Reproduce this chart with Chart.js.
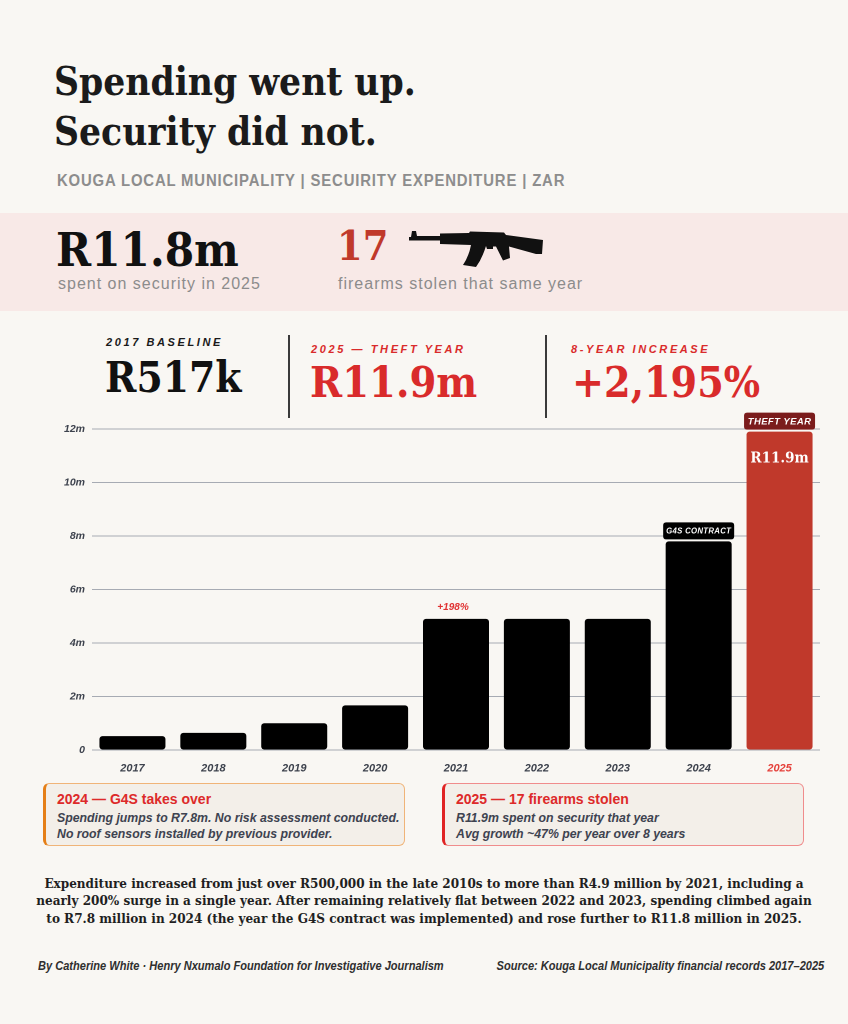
<!DOCTYPE html>
<html>
<head>
<meta charset="utf-8">
<script src="https://cdn.jsdelivr.net/npm/chart.js@4.4.1/dist/chart.umd.min.js"></script>
<style>
  html,body{margin:0;padding:0;}
  body{width:848px;height:1024px;background:#f9f7f3;position:relative;overflow:hidden;font-family:"Liberation Sans",Arial,sans-serif;}
  .abs{position:absolute;white-space:nowrap;line-height:1;}
  .serif{font-family:"DejaVu Serif Condensed","DejaVu Serif",serif;font-stretch:condensed;font-weight:bold;}
  .narrow{font-family:"Liberation Sans",Arial,sans-serif;}
  #band{position:absolute;left:0;top:213px;width:848px;height:98px;background:#f8e9e7;}
  .kpilab{font-family:"Liberation Sans",Arial,sans-serif;font-style:italic;font-weight:bold;font-size:11px;letter-spacing:2.6px;}
  .divider{position:absolute;width:1.5px;background:#3a3a3a;top:335px;height:83px;}
  .note{position:absolute;top:783px;width:362px;height:63px;border-radius:6px;background:#f3efe9;box-sizing:border-box;}
  .note .t{position:absolute;left:11px;top:7px;font-weight:bold;font-size:14px;color:#dd2a2a;white-space:nowrap;}
  .note .b{position:absolute;left:11px;top:27px;font-style:italic;font-weight:600;font-size:12.3px;line-height:15.5px;color:#3e4350;white-space:nowrap;}
  #para{position:absolute;left:0;width:848px;top:875px;text-align:center;font-family:"DejaVu Serif Condensed","DejaVu Serif",serif;font-stretch:condensed;font-weight:bold;font-size:13.4px;line-height:17.3px;color:#1f1f1f;}
  .foot{position:absolute;top:960px;font-family:"Liberation Sans",Arial,sans-serif;font-style:italic;font-weight:bold;font-size:12.5px;color:#2f2f2f;white-space:nowrap;line-height:1;}
  #chartWrap{position:absolute;left:40px;top:405px;width:790px;height:375px;}
</style>
</head>
<body>
<div class="abs serif" style="left:54px;top:63px;font-size:38.5px;color:#1b1b1b;">Spending went up.</div>
<div class="abs serif" style="left:54px;top:113px;font-size:38.5px;color:#1b1b1b;">Security did not.</div>
<div class="abs narrow" style="left:57px;top:173px;font-size:16px;font-weight:bold;letter-spacing:0.9px;color:#8d8d8d;transform:scaleX(0.93);transform-origin:0 0;">KOUGA LOCAL MUNICIPALITY | SECUIRITY EXPENDITURE | ZAR</div>

<div id="band"></div>
<div class="abs serif" style="left:56px;top:226px;font-size:47px;color:#111;">R11.8m</div>
<div class="abs narrow" style="left:58px;top:276px;font-size:16px;letter-spacing:1px;color:#8c8c8c;">spent on security in 2025</div>
<div class="abs serif" style="left:337px;top:226px;font-size:41px;color:#c0392b;">17</div>
<svg style="position:absolute;left:409px;top:231px;" width="134" height="37" viewBox="0 0 134 37">
  <path fill="#111" d="M0,6 L2,6 L3,0 L7,0 L8,5 L31,5 L31,2.5 L60,2 L61,0.5 L95,1.5 L97,4 L134,9 L133,23 L127,23 L100,15.5 L101,27 L94,29.5 L87,15.5 L84,15.5 L84,18 L78,18 L77,15 Q73,28 67,36 L54,34 Q60,25 62,14 L31,13 L31,9.5 L0,9.5 Z"/>
</svg>
<div class="abs narrow" style="left:338px;top:276px;font-size:16px;letter-spacing:1px;color:#8c8c8c;">firearms stolen that same year</div>

<div class="abs kpilab" style="left:106px;top:337px;color:#1a1a1a;">2017 BASELINE</div>
<div class="abs serif" style="left:105px;top:357px;font-size:42px;color:#111;">R517k</div>
<div class="divider" style="left:288px;"></div>
<div class="abs kpilab" style="left:311px;top:344px;color:#d92b2b;">2025 — THEFT YEAR</div>
<div class="abs serif" style="left:310px;top:361px;font-size:43px;color:#d92b2b;">R11.9m</div>
<div class="divider" style="left:545px;"></div>
<div class="abs kpilab" style="left:571px;top:344px;color:#d92b2b;">8-YEAR INCREASE</div>
<div class="abs serif" style="left:572px;top:361px;font-size:42.5px;color:#d92b2b;">+2,195%</div>

<div id="chartWrap"><canvas id="c" width="790" height="375" style="width:790px;height:375px;"></canvas></div>

<div class="note" style="left:43px;border:1px solid #f0b478;border-left:3px solid #e57f17;">
  <div class="t">2024 — G4S takes over</div>
  <div class="b">Spending jumps to R7.8m. No risk assessment conducted.<br>No roof sensors installed by previous provider.</div>
</div>
<div class="note" style="left:442px;border:1px solid #f08c8c;border-left:3px solid #e02424;">
  <div class="t">2025 — 17 firearms stolen</div>
  <div class="b">R11.9m spent on security that year<br>Avg growth ~47% per year over 8 years</div>
</div>

<div id="para">Expenditure increased from just over R500,000 in the late 2010s to more than R4.9 million by 2021, including a<br>nearly 200% surge in a single year. After remaining relatively flat between 2022 and 2023, spending climbed again<br>to R7.8 million in 2024 (the year the G4S contract was implemented) and rose further to R11.8 million in 2025.</div>

<div class="foot" style="left:38px;transform:scaleX(0.885);transform-origin:0 0;">By Catherine White · Henry Nxumalo Foundation for Investigative Journalism</div>
<div class="foot" style="right:24px;transform:scaleX(0.885);transform-origin:100% 0;">Source: Kouga Local Municipality financial records 2017–2025</div>

<script>
// ---- data ----
const years = ['2017','2018','2019','2020','2021','2022','2023','2024','2025'];
const spendMillions = [0.517, 0.64, 1.0, 1.67, 4.9, 4.9, 4.9, 7.8, 11.9];
const yTickValues = [0, 2, 4, 6, 8, 10, 12];
const highlightYear = '2025';
const growthNoteYear = '2021';
const growthNoteText = '+198%';
const pillNotes = [ { year: '2024', text: 'G4S CONTRACT' }, { year: '2025', text: 'THEFT YEAR' } ];
const insideLabel = { year: '2025', text: 'R11.9m' };

const barColors = years.map(y => y === highlightYear ? '#c0392b' : '#000000');

function roundRect(ctx, x, y, w, h, r) {
  ctx.beginPath();
  ctx.moveTo(x + r, y);
  ctx.lineTo(x + w - r, y);
  ctx.quadraticCurveTo(x + w, y, x + w, y + r);
  ctx.lineTo(x + w, y + h - r);
  ctx.quadraticCurveTo(x + w, y + h, x + w - r, y + h);
  ctx.lineTo(x + r, y + h);
  ctx.quadraticCurveTo(x, y + h, x, y + h - r);
  ctx.lineTo(x, y + r);
  ctx.quadraticCurveTo(x, y, x + r, y);
  ctx.closePath();
}

const notesPlugin = {
  id: 'notes',
  afterDatasetsDraw(chart) {
    const ctx = chart.ctx;
    const meta = chart.getDatasetMeta(0);
    ctx.save();
    // growth note
    const g = meta.data[years.indexOf(growthNoteYear)];
    ctx.font = 'italic bold 10px "Liberation Sans", Arial, sans-serif';
    ctx.fillStyle = '#e03131';
    ctx.textAlign = 'center';
    ctx.textBaseline = 'middle';
    ctx.fillText(growthNoteText, g.x - 3, g.y - 11.5);
    // pills
    pillNotes.forEach(p => {
      const b = meta.data[years.indexOf(p.year)];
      const w = b.width + 5, h = 17;
      const x = b.x - w / 2, y = b.y - 2 - h;
      const isHi = p.year === highlightYear;
      ctx.fillStyle = isHi ? '#7b1c1c' : '#000000';
      roundRect(ctx, x, y, w, h, 3);
      ctx.fill();
      ctx.fillStyle = '#ffffff';
      ctx.font = isHi ? 'italic bold 9.5px "Liberation Sans", Arial, sans-serif' : 'italic bold 7.8px "Liberation Sans", Arial, sans-serif';
      ctx.letterSpacing = isHi ? '0.4px' : '0.3px';
      ctx.fillText(p.text, b.x, y + h / 2 + 0.5);
      ctx.letterSpacing = '0px';
    });
    // inside label
    const ib = meta.data[years.indexOf(insideLabel.year)];
    ctx.fillStyle = '#ffffff';
    ctx.font = 'bold 15px "DejaVu Serif Condensed", "DejaVu Serif", serif';
    ctx.fillText(insideLabel.text, ib.x, ib.y + 27);
    ctx.restore();
  }
};

new Chart(document.getElementById('c'), {
  type: 'bar',
  data: {
    labels: years,
    datasets: [{
      data: spendMillions,
      backgroundColor: barColors,
      borderRadius: 3,
      borderSkipped: false,
      categoryPercentage: 1,
      barPercentage: 0.816
    }]
  },
  options: {
    responsive: false,
    animation: false,
    devicePixelRatio: 2,
    layout: { padding: { top: 24, right: 10, left: 0, bottom: 0 } },
    plugins: { legend: { display: false }, tooltip: { enabled: false } },
    scales: {
      x: {
        grid: { display: false, drawTicks: false },
        border: { display: false },
        ticks: {
          padding: 12,
          color: c => years[c.index] === highlightYear ? '#e5403a' : '#3d424d',
          font: { family: '"Liberation Sans", Arial, sans-serif', size: 11, style: 'italic', weight: 'bold' }
        },
        afterFit: s => { s.height = 30; }
      },
      y: {
        min: 0, max: 12,
        afterBuildTicks: s => { s.ticks = yTickValues.map(v => ({ value: v })); },
        grid: { color: '#a7abb3', lineWidth: 1, drawTicks: false },
        border: { display: false },
        ticks: {
          padding: 7,
          color: '#3d424d',
          font: { family: '"Liberation Sans", Arial, sans-serif', size: 10.5, style: 'italic', weight: 'bold' },
          callback: v => v === 0 ? '0' : v + 'm'
        },
        afterFit: s => { s.width = 52; }
      }
    }
  },
  plugins: [notesPlugin]
});
</script>
</body>
</html>
